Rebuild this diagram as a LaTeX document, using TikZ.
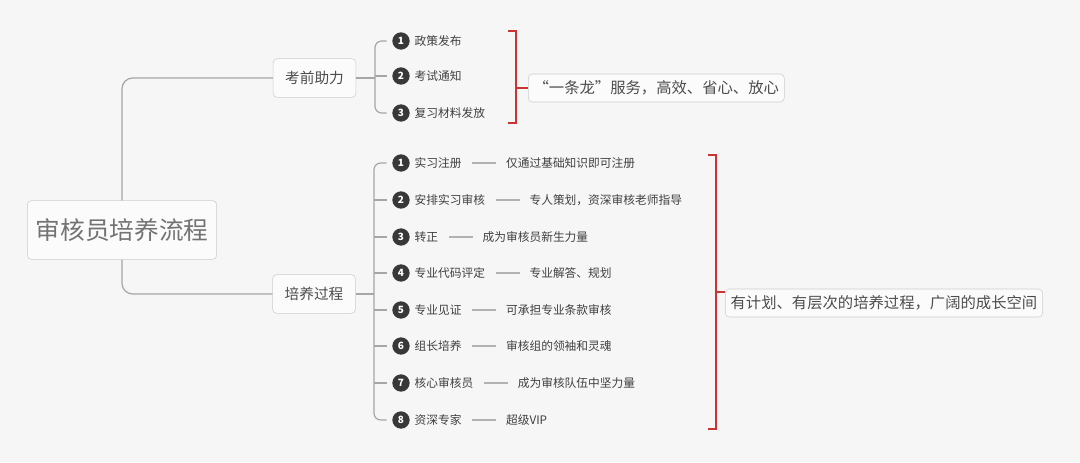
\documentclass[tikz,border=0pt]{standalone}
\usepackage{fontspec}
\setmainfont{Noto Sans CJK SC}
\begin{document}
\begin{tikzpicture}[x=0.75pt,y=-0.75pt,
  line/.style={draw=gray!70,line width=0.9pt},
  redl/.style={draw=red!75!black!80,line width=1pt},
  box/.style={draw=gray!40,fill=white!60!gray!8,rounded corners=3pt,text=black!70,inner sep=5pt},
  num/.style={circle,fill=black!78,text=white,font=\fontsize{7.5}{7.5}\selectfont\bfseries,inner sep=0pt,minimum size=13pt},
  item/.style={anchor=west,text=black!75,font=\fontsize{8.8}{10}\selectfont,inner sep=1pt},
  desc/.style={anchor=west,text=black!75,font=\fontsize{8.8}{10}\selectfont,inner sep=1pt}]
\fill[gray!7] (0,0) rectangle (1080,462);
\useasboundingbox (0,0) rectangle (1080,462);
\node[box,minimum width=142pt,minimum height=44pt,font=\fontsize{18.5}{20}\selectfont,text=black!55] (root) at (122,230) {审核员培养流程};
\node[box,minimum width=62pt,minimum height=29pt,font=\fontsize{11}{12}\selectfont] (b1) at (314.5,78) {考前助力};
\node[box,minimum width=62pt,minimum height=29pt,font=\fontsize{11}{12}\selectfont] (b2) at (314,294) {培养过程};
\draw[line,rounded corners=8pt] (root.north) |- (b1.west);
\draw[line,rounded corners=8pt] (root.south) |- (b2.west);
% branch 1
\coordinate (s1) at (375,78);
\draw[line] (b1.east) -- (s1);
\foreach \i/\y/\t in {1/41/政策发布,2/76/考试通知,3/113/复习材料发放}{
  \node[num] (n1\i) at (401,\y) {\i};
  \node[item] (t1\i) at (413,\y) {\t};
}
\draw[line,rounded corners=5pt] ([xshift=-4pt]n11.west) -- (375,41) -- (375,113) -- ([xshift=-4pt]n13.west);
\draw[line] (375,76) -- ([xshift=-4pt]n12.west);
\draw[redl] (508,31) -- (516,31) -- (516,123) -- (508,123);
\node[box,anchor=west,minimum height=21pt,font=\fontsize{11.5}{12}\selectfont,inner sep=4pt] (r1) at (528,88) {“一条龙”服务，高效、省心、放心};
\draw[redl] (516,88) -- (r1.west);
% branch 2
\foreach \i/\y/\t/\d in {1/163/实习注册/仅通过基础知识即可注册,2/200/安排实习审核/专人策划，资深审核老师指导,3/237/转正/成为审核员新生力量,4/273/专业代码评定/专业解答、规划,5/310/专业见证/可承担专业条款审核,6/346/组长培养/审核组的领袖和灵魂,7/383/核心审核员/成为审核队伍中坚力量,8/420/资深专家/超级VIP}{
  \node[num] (n2\i) at (401,\y) {\i};
  \node[item] (t2\i) at (413,\y) {\t};
  \node[desc] (d2\i) at ([xshift=31pt]t2\i.east) {\d};
  \draw[line,draw=gray!60] ([xshift=7pt]t2\i.east) -- ([xshift=-6pt]d2\i.west);
}
\draw[line,rounded corners=5pt] ([xshift=-4pt]n21.west) -- (374,163) -- (374,420) -- ([xshift=-4pt]n28.west);
\foreach \i/\y in {2/200,3/237,4/273,5/310,6/346,7/383}{
  \draw[line] (374,\y) -- ([xshift=-4pt]n2\i.west);
}
\draw[line] (b2.east) -- (374,294);
\draw[redl] (708,155) -- (716,155) -- (716,429) -- (708,429);
\node[box,anchor=west,minimum height=21pt,font=\fontsize{11.5}{12}\selectfont,inner sep=4pt] (r2) at (725,303) {有计划、有层次的培养过程，广阔的成长空间};
\draw[redl] (716,292) -- (725,292);
\end{tikzpicture}
\end{document}
